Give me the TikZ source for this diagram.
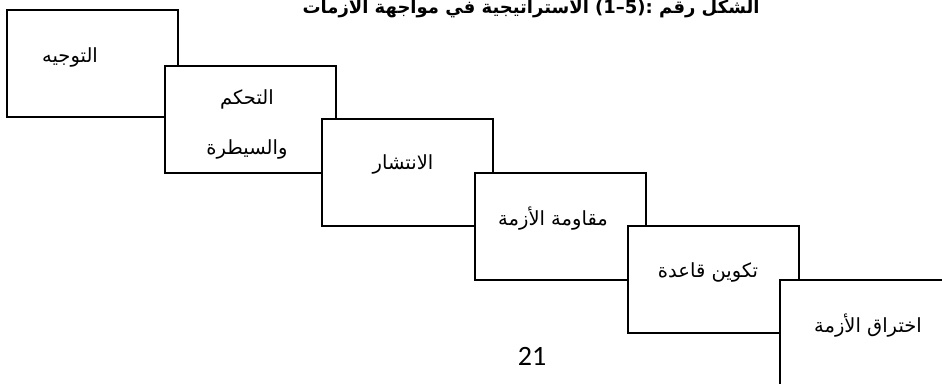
\documentclass[tikz,border=0pt]{standalone}
\usepackage{fontspec}
\TeXXeTstate=1
\newfontfamily\arabicfont[Script=Arabic]{DejaVu Sans}
\newfontfamily\pagenumfont{Carlito}
\begin{document}
\begin{tikzpicture}[x=1pt,y=-1pt,
  stepbox/.style={draw=black, line width=2pt, fill=white, rectangle,
    inner sep=0pt, minimum width=171pt, minimum height=107pt, anchor=north west},
  boxtext/.style={font=\arabicfont\fontsize{19.5}{24}\selectfont, inner sep=0pt},
  titletext/.style={font=\arabicfont\bfseries\fontsize{18}{20}\selectfont, inner sep=0pt, anchor=base},
  pagetext/.style={font=\pagenumfont\fontsize{28}{30}\selectfont, inner sep=0pt}]
\useasboundingbox (0,0) rectangle (942,383);
\clip (0,0) rectangle (942,383);
\fill[white] (0,0) rectangle (942,383);

% caption, partly above the top edge
\node[titletext] (title) at (531,13)
  {\beginR الشكل رقم \beginL:(5–1)\endL{} الاستراتيجية في مواجهة الأزمات\endR};

% descending staircase of stages, each one laid over the previous
\node[stepbox] (b1) at (6,9) {};
\node[boxtext] (t1) at (70,57) {\beginR التوجيه\endR};

\node[stepbox] (b2) at (164,65) {};
\node[boxtext] (t2a) at (247,99) {\beginR التحكم\endR};
\node[boxtext] (t2b) at (247,149) {\beginR والسيطرة\endR};

\node[stepbox] (b3) at (321,118) {};
\node[boxtext] (t3) at (403,164) {\beginR الانتشار\endR};

\node[stepbox] (b4) at (474,172) {};
\node[boxtext] (t4) at (553,219) {\beginR مقاومة الأزمة\endR};

\node[stepbox] (b5) at (627,225) {};
\node[boxtext] (t5) at (708,272) {\beginR تكوين قاعدة\endR};

\node[stepbox] (b6) at (779,279) {};
\node[boxtext] (t6) at (868,326) {\beginR اختراق الأزمة\endR};

% page number
\node[pagetext] (pg) at (532,356) {21};
\end{tikzpicture}
\end{document}
